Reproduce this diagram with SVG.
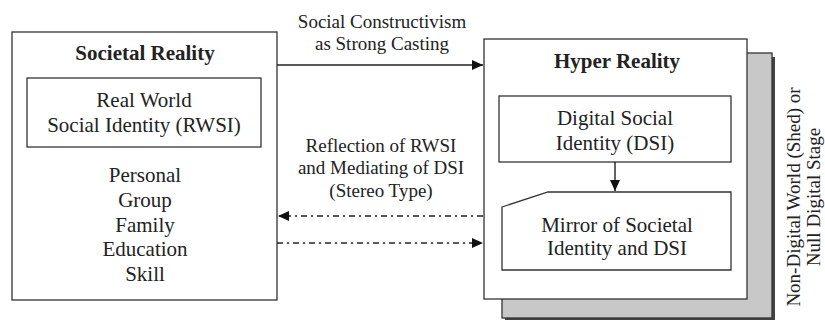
<svg xmlns="http://www.w3.org/2000/svg" width="825" height="320" viewBox="0 0 825 320">
<style>
.t{font-family:'Liberation Serif','DejaVu Serif',serif;font-size:21px;fill:#222;text-anchor:middle}
.s{font-size:19px}
.b{font-weight:bold}
.box{fill:#fff;stroke:#333;stroke-width:1.3}
.ln{fill:none;stroke:#222;stroke-width:1.4}
.dd{stroke-dasharray:6 4 2 4}
</style>
<defs>
<marker id="ah" markerWidth="12" markerHeight="10" refX="11" refY="5" orient="auto" markerUnits="userSpaceOnUse">
<path d="M0,0 L11,5 L0,10 Z" fill="#111"/>
</marker>
</defs>
<rect width="825" height="320" fill="#fff"/>
<g id="societal">
<rect class="box" x="12" y="32" width="265" height="268"/>
<text class="t b" x="145" y="60">Societal Reality</text>
</g>
<g id="rwsi">
<rect class="box" x="27" y="78" width="234" height="69"/>
<text class="t" x="144" y="107">Real World</text>
<text class="t" x="144" y="132">Social Identity (RWSI)</text>
</g>
<g id="list">
<text class="t" x="145" y="182">Personal</text>
<text class="t" x="145" y="207">Group</text>
<text class="t" x="145" y="232">Family</text>
<text class="t" x="145" y="256">Education</text>
<text class="t" x="145" y="281">Skill</text>
</g>
<g id="nondigital">
<rect x="505" y="57" width="270" height="265" fill="#444"/>
<rect x="502" y="53" width="270" height="265" fill="#c8c8c8" stroke="#333" stroke-width="1.3"/>
<text class="t s" transform="translate(800,197) rotate(-90)">Non-Digital World (Shed) or</text>
<text class="t s" transform="translate(820,197) rotate(-90)">Null Digital Stage</text>
</g>
<g id="hyper">
<rect class="box" x="484" y="39" width="263" height="260"/>
<text class="t b" x="617" y="68">Hyper Reality</text>
</g>
<g id="dsi">
<rect class="box" x="499" y="96" width="232" height="66"/>
<text class="t" x="615" y="125">Digital Social</text>
<text class="t" x="615" y="150">Identity (DSI)</text>
</g>
<g id="mirror">
<path class="box" d="M502,207 L548,192 H731 V270 H502 Z"/>
<text class="t" x="617" y="232">Mirror of Societal</text>
<text class="t" x="617" y="255">Identity and DSI</text>
</g>
<g id="connectors">
<line class="ln" x1="277" y1="65" x2="483" y2="65" marker-end="url(#ah)"/>
<line class="ln dd" x1="483" y1="216" x2="278" y2="216" marker-end="url(#ah)"/>
<line class="ln dd" x1="277" y1="243" x2="483" y2="243" marker-end="url(#ah)"/>
<line class="ln" x1="615" y1="162" x2="615" y2="191" marker-end="url(#ah)"/>
<text class="t s" x="382" y="28">Social Constructivism</text>
<text class="t s" x="382" y="50">as Strong Casting</text>
<text class="t s" x="381" y="152">Reflection of RWSI</text>
<text class="t s" x="381" y="174">and Mediating of DSI</text>
<text class="t s" x="381" y="197">(Stereo Type)</text>
</g>
</svg>
